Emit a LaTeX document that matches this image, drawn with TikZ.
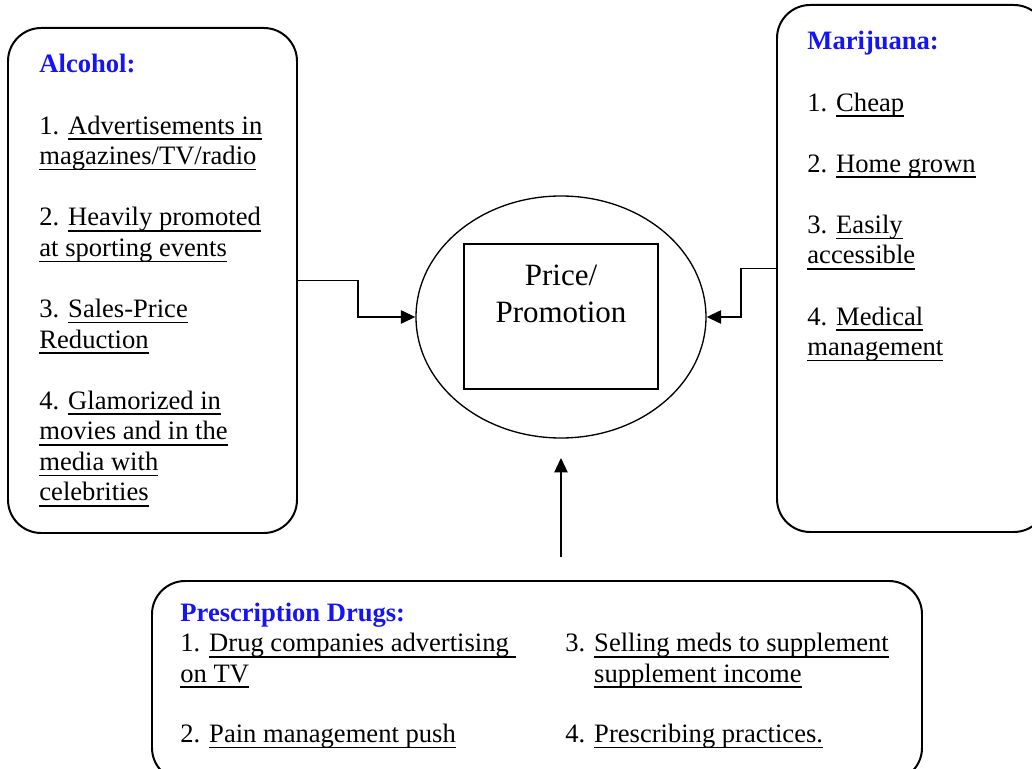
\documentclass[tikz,border=0pt]{standalone}
\usepackage{fontspec}
\setmainfont{Liberation Serif}
\usetikzlibrary{shapes.geometric,arrows.meta}
\newcommand\ulx[1]{\leavevmode\setbox0=\hbox{#1}\rlap{\rule[-2.6pt]{\wd0}{0.7pt}}\box0}
\newcommand\hdr[1]{\textbf{\color{hdrblue}#1}}
\definecolor{hdrblue}{RGB}{20,20,245}
\tikzset{
  rbox/.style={draw, line width=0.9pt, rounded corners=15pt, inner sep=0pt},
  txt/.style={anchor=base west, inner sep=0pt},
  conn/.style={line width=0.7pt, -{Triangle[length=6.5pt,width=6pt]}},
}
\begin{document}
\begin{tikzpicture}[x=0.4515pt,y=-0.4515pt]
\useasboundingbox (0,0) rectangle (1032,769);
\clip (0,0) rectangle (1032,769);
% boxes
\node[rbox, minimum width=289*0.4515pt, minimum height=505*0.4515pt] (alc) at (152.5,280.5) {};
\node[rbox, minimum width=270*0.4515pt, minimum height=527*0.4515pt] (mar) at (912,268.5) {};
\node[rbox, minimum width=770*0.4515pt, minimum height=200*0.4515pt] (rx) at (537,681) {};
% centre
\node[draw, ellipse, line width=0.6pt, inner sep=0pt, minimum width=290*0.4515pt, minimum height=242*0.4515pt] (ell) at (561,317) {};
\node[draw, rectangle, line width=0.6pt, inner sep=0pt, minimum width=194*0.4515pt, minimum height=145*0.4515pt] (pp) at (561,316.5) {};
\node[anchor=base, inner sep=0pt] (pptxt) at (561,286) {\fontsize{14pt}{16.3pt}\selectfont\begin{tabular}[t]{@{}c@{}}Price/\\Promotion\end{tabular}};
% texts
\node[txt] (alctxt) at (39,73) {\begin{minipage}[t]{6cm}\fontsize{12pt}{13.8pt}\selectfont\raggedright
\hdr{Alcohol:}\\[13.8pt]
1. \ulx{Advertisements in}\\
\ulx{magazines/TV/radio}\\[13.8pt]
2. \ulx{Heavily promoted}\\
\ulx{at sporting events}\\[13.8pt]
3. \ulx{Sales-Price}\\
\ulx{Reduction}\\[13.8pt]
4. \ulx{Glamorized in}\\
\ulx{movies and in the}\\
\ulx{media with}\\
\ulx{celebrities}
\end{minipage}};
\node[txt] (martxt) at (807,50) {\begin{minipage}[t]{5cm}\fontsize{12pt}{13.8pt}\selectfont\raggedright
\hdr{Marijuana:}\\[13.8pt]
1. \ulx{Cheap}\\[13.8pt]
2. \ulx{Home grown}\\[13.8pt]
3. \ulx{Easily}\\
\ulx{accessible}\\[13.8pt]
4. \ulx{Medical}\\
\ulx{management}
\end{minipage}};
\node[txt] (rxhdr) at (180,622) {\fontsize{12pt}{13.8pt}\selectfont\hdr{Prescription Drugs:}};
\node[txt] (rxa) at (180,652) {\begin{minipage}[t]{8cm}\fontsize{12pt}{13.6pt}\selectfont\raggedright
1. \ulx{Drug companies advertising\ }\\
\ulx{on TV}\\[13.6pt]
2. \ulx{Pain management push}
\end{minipage}};
\node[txt] (rxb) at (565,652) {\begin{minipage}[t]{8cm}\fontsize{12pt}{13.6pt}\selectfont\raggedright
3. \ulx{Selling meds to supplement}\\
\hphantom{3. }\ulx{supplement income}\\[13.6pt]
4. \ulx{Prescribing practices.}
\end{minipage}};
% connectors
\draw[conn] (alc.east) -- ++(60,0) |- (ell.west);
\draw[conn] (mar.west) -- ++(-35,0) |- (ell.east);
\coordinate (bs) at (561,557);
\coordinate (be) at (561,458);
\draw[conn] (bs) -- (be);
\end{tikzpicture}
\end{document}
